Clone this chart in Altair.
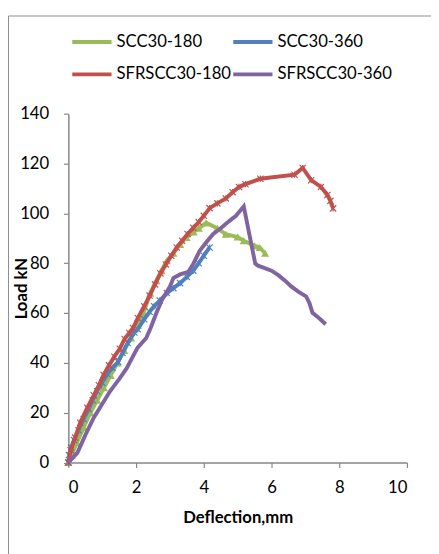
import altair as alt
import pandas as pd

series_names = ["SCC30-180", "SFRSCC30-180", "SCC30-360", "SFRSCC30-360"]
colors = ["#9BBB59", "#C0504D", "#4F81BD", "#8064A2"]

scc180_x = [0, 0.1, 0.25, 0.45, 0.65, 0.85, 1.05, 1.25, 1.45, 1.65, 1.85, 2.05, 2.22, 2.42, 2.6, 2.75, 2.91, 3.1, 3.3, 3.49, 3.7, 3.85, 4.07, 4.4, 4.65, 5.0, 5.18, 5.5, 5.65, 5.81]
scc180_y = [0, 3, 8, 14, 20, 25, 30, 35, 40, 45, 50, 55, 60, 68, 73, 77, 81, 84, 87.5, 90.3, 92.5, 94, 96.2, 94, 91.6, 90.5, 89, 87, 86.3, 84]

scc360_x = [0, 0.02, 0.08, 0.17, 0.3, 0.45, 0.6, 0.72, 0.85, 1.0, 1.15, 1.3, 1.47, 1.6, 1.75, 1.95, 2.05, 2.24, 2.4, 2.53, 2.7, 2.91, 3.1, 3.3, 3.5, 3.69, 3.85, 4.0, 4.17]
scc360_y = [0, 3, 6, 9, 13, 17.5, 21.5, 25, 28.6, 32, 35.5, 38, 40.4, 44, 48, 52.2, 53.5, 57.5, 60.5, 62.7, 65, 68, 70, 72, 74.5, 77, 80, 83, 86.3]

sfr180_x = [0, 0.07, 0.2, 0.35, 0.56, 0.75, 0.9, 1.04, 1.2, 1.36, 1.52, 1.66, 1.8, 1.91, 2.05, 2.24, 2.4, 2.56, 2.72, 2.88, 3.04, 3.2, 3.36, 3.52, 3.69, 3.85, 4.0, 4.17, 4.4, 4.65, 4.85, 5.04, 5.23, 5.67, 6.68, 6.92, 7.17, 7.46, 7.65, 7.74, 7.82]
sfr180_y = [0, 5, 10, 16, 22, 27, 31, 35.2, 39, 42.5, 45.7, 49.6, 52, 54, 58, 62.7, 67, 71.5, 75.9, 79.5, 83, 86.3, 89, 91.7, 94.2, 96.5, 99, 102.1, 104, 106, 108.5, 110.6, 111.7, 113.9, 115.5, 118.2, 113.3, 110.6, 107.4, 105, 102]

sfr360_x = [0, 0.1, 0.27, 0.5, 0.75, 1.0, 1.23, 1.5, 1.72, 2.04, 2.3, 2.43, 2.6, 2.77, 3.0, 3.1, 3.3, 3.54, 3.7, 3.88, 4.05, 4.27, 4.5, 4.75, 4.95, 5.18, 5.52, 5.6, 5.76, 6.0, 6.2, 6.4, 6.59, 6.8, 7.02, 7.12, 7.21, 7.4, 7.6]
sfr360_y = [0, 1.5, 4, 11, 18, 23.5, 28.6, 33.5, 37.8, 46, 50, 54, 60, 65.4, 70.6, 74, 75.5, 76.5, 80, 85, 88, 91.6, 94, 96.9, 99, 102.8, 79.8, 79, 78.2, 77, 75.2, 73, 70.6, 68.5, 66.7, 64, 60.1, 58, 55.5]

rows = []
for order, (name, xs, ys) in enumerate([
    ("SCC30-180", scc180_x, scc180_y),
    ("SCC30-360", scc360_x, scc360_y),
    ("SFRSCC30-180", sfr180_x, sfr180_y),
    ("SFRSCC30-360", sfr360_x, sfr360_y),
]):
    for i, (a, b) in enumerate(zip(xs, ys)):
        rows.append({"series": name, "x": a, "y": b, "i": i, "s": order})
df = pd.DataFrame(rows)

FONT = "Lato"
AXIS_COLOR = "#868686"

xscale = alt.Scale(domain=[0, 10], nice=False)
yscale = alt.Scale(domain=[0, 140], nice=False)
cscale = alt.Scale(domain=series_names, range=colors)

xenc = alt.X("x:Q", scale=xscale,
             axis=alt.Axis(values=[0, 2, 4, 6, 8, 10], title="Deflection,mm", grid=False))
yenc = alt.Y("y:Q", scale=yscale,
             axis=alt.Axis(values=[0, 20, 40, 60, 80, 100, 120, 140], title="Load kN", grid=False,
                           titleX=-39, titleY=177.75, titleAlign="center", titleBaseline="bottom",
                           titleAngle=270))

legend = alt.Legend(orient="none", legendX=2, legendY=-95, columns=2,
                    title=None, symbolType="stroke", symbolSize=1600,
                    symbolStrokeWidth=4, labelFontSize=17, labelFont=FONT,
                    labelColor="black", columnPadding=-10, rowPadding=3,
                    labelOffset=3, labelLimit=300)

line_layers = []
for k, name in enumerate(["SCC30-180", "SCC30-360", "SFRSCC30-180", "SFRSCC30-360"]):
    line_layers.append(
        alt.Chart(df[df.series == name]).mark_line(strokeWidth=4).encode(
            x=xenc, y=yenc,
            color=alt.Color("series:N", scale=cscale, legend=legend if k == 0 else None),
            order="i:Q",
        )
    )

tri = alt.Chart(df[df.series == "SCC30-180"]).mark_point(
    shape="triangle-up", filled=True, size=70, opacity=1
).encode(x="x:Q", y="y:Q", color=alt.Color("series:N", scale=cscale, legend=None))

star = "M-1,-1L1,1M1,-1L-1,1M0,-1L0,1"
stars = alt.Chart(df[df.series.isin(["SCC30-360", "SFRSCC30-180"])]).mark_point(
    shape=star, filled=False, size=40, strokeWidth=1.2, opacity=1
).encode(x="x:Q", y="y:Q", color=alt.Color("series:N", scale=cscale, legend=None))

frame_df = pd.DataFrame({"k": [0]})
frame_v = alt.Chart(frame_df).mark_rule(color="#8c8c8c", strokeWidth=1).encode(
    x=alt.value(-61), y=alt.value(-99.5), y2=alt.value(700))
frame_h = alt.Chart(frame_df).mark_rule(color="#8c8c8c", strokeWidth=1).encode(
    y=alt.value(-99.5), x=alt.value(-61), x2=alt.value(700))

chart = alt.layer(frame_v, frame_h, line_layers[0], tri, line_layers[1], stars.transform_filter(
    alt.datum.series == "SCC30-360"), line_layers[2], stars.transform_filter(
    alt.datum.series == "SFRSCC30-180"), line_layers[3]).properties(
    width=345, height=355.5,
    autosize=alt.AutoSizeParams(type="none"),
    padding={"left": 61.5, "top": 102.5, "right": 24.5, "bottom": 88},
).configure_view(stroke=None).configure_axis(
    domainColor=AXIS_COLOR, domainWidth=1.5, tickColor=AXIS_COLOR, tickWidth=1.2,
    tickSize=5, labelFont=FONT, labelFontSize=17, labelColor="black",
    titleFont=FONT, titleFontSize=17, titleFontWeight="bold", titleColor="black",
).configure_axisX(labelPadding=13, titlePadding=14).configure_axisY(
    labelPadding=15)

chart.save("out.html", embed_options={"renderer": "svg", "actions": False})
